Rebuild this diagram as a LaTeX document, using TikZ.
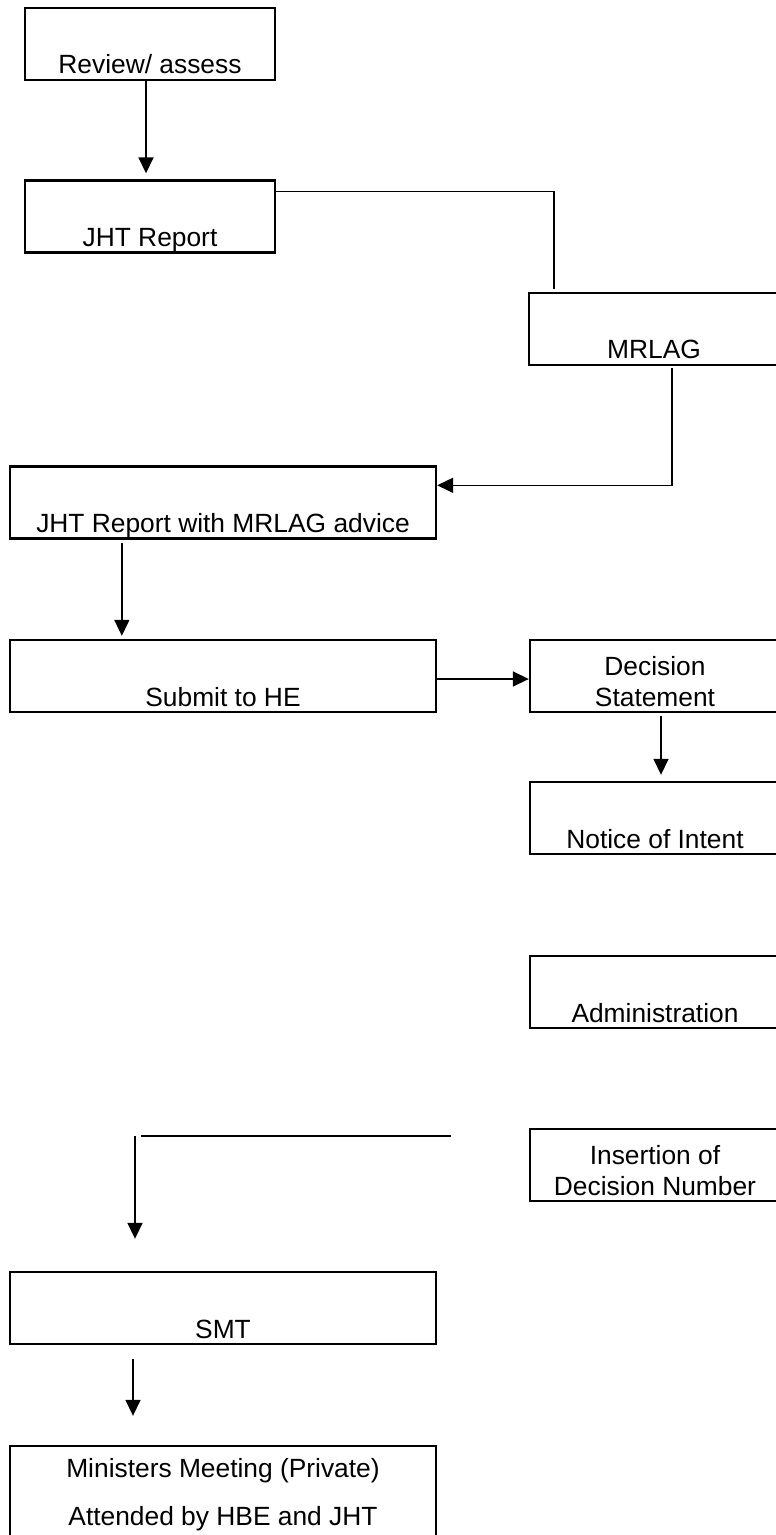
\documentclass[tikz,border=0pt]{standalone}
\usepackage{fontspec}
\setmainfont{Liberation Sans}
\usepackage{tikz}
\usetikzlibrary{arrows.meta}
\tikzset{
    flowbox/.style={rectangle, draw=black, line width=0.048cm, inner sep=0pt,
        minimum height=1.44cm, text height=1.32cm, text depth=0.12cm,
        font=\fontsize{15pt}{17.6pt}\selectfont},
    smallbox/.style={flowbox, minimum width=5cm},
    widebox/.style={flowbox, minimum width=8.52cm},
    flowline/.style={line width=0.032cm, black},
    flowarrow/.style={flowline, -{Triangle[length=0.32cm, width=0.3cm]}},
}
\begin{document}
\begin{tikzpicture}[x=0.02cm, y=-0.02cm]
    \useasboundingbox (0,0) rectangle (776,1535);
    \clip (0,0) rectangle (776,1535);
    \node[smallbox] (review) at (150,44) {Review/ assess};
    \node[smallbox] (jht) at (150,216.5) {JHT Report};
    \node[smallbox] (mrlag) at (654,329) {MRLAG};
    \node[widebox] (advice) at (223,502.5) {JHT Report with MRLAG advice};
    \node[widebox] (submit) at (223,676) {Submit to HE};
    \node[smallbox] (decision) at (655,676) {\parbox[b]{5cm}{\centering Decision\\Statement}};
    \node[smallbox] (intent) at (655,818) {Notice of Intent};
    \node[smallbox] (admin) at (655,992) {Administration};
    \node[smallbox] (insert) at (655,1165) {\parbox[b]{5cm}{\centering Insertion of\\Decision Number}};
    \node[widebox] (smt) at (223,1308) {SMT};
    \node[widebox, minimum height=2.4cm, text height=1.58cm, text depth=0.82cm] (ministers) at (223,1506)
        {\parbox[b]{8.52cm}{\centering Ministers Meeting (Private)\\[9.6pt]Attended by HBE and JHT}};
    \coordinate (gapleft) at (141,1136);
    \coordinate (gapright) at (451,1136);
    \coordinate (drop) at (135,1136);

    \draw[flowarrow, shorten >=0.12cm] ([shift={(-4,0)}]review.south) -- ([shift={(-4,0)}]jht.north);
    \draw[flowline] ([shift={(0,12)}]jht.north east) -| ([shift={(26,-3)}]mrlag.north west);
    \draw[flowarrow] ([shift={(144,2)}]mrlag.south west) |- ([shift={(0,20)}]advice.north east);
    \draw[flowarrow] ([shift={(113,3)}]advice.south west) -- ([shift={(113,-3)}]submit.north west);
    \draw[flowarrow] ([shift={(-1,3)}]submit.east) -- ([shift={(0,3)}]decision.west);
    \draw[flowarrow] ([shift={(6,3)}]decision.south) -- ([shift={(6,-6)}]intent.north);
    \draw[flowline] (gapleft) -- (gapright);
    \draw[flowarrow] (drop) -- ([shift={(-88,-32)}]smt.north);
    \draw[flowarrow] ([shift={(-90,14)}]smt.south) -- ([shift={(-90,-29)}]ministers.north);
\end{tikzpicture}
\end{document}
